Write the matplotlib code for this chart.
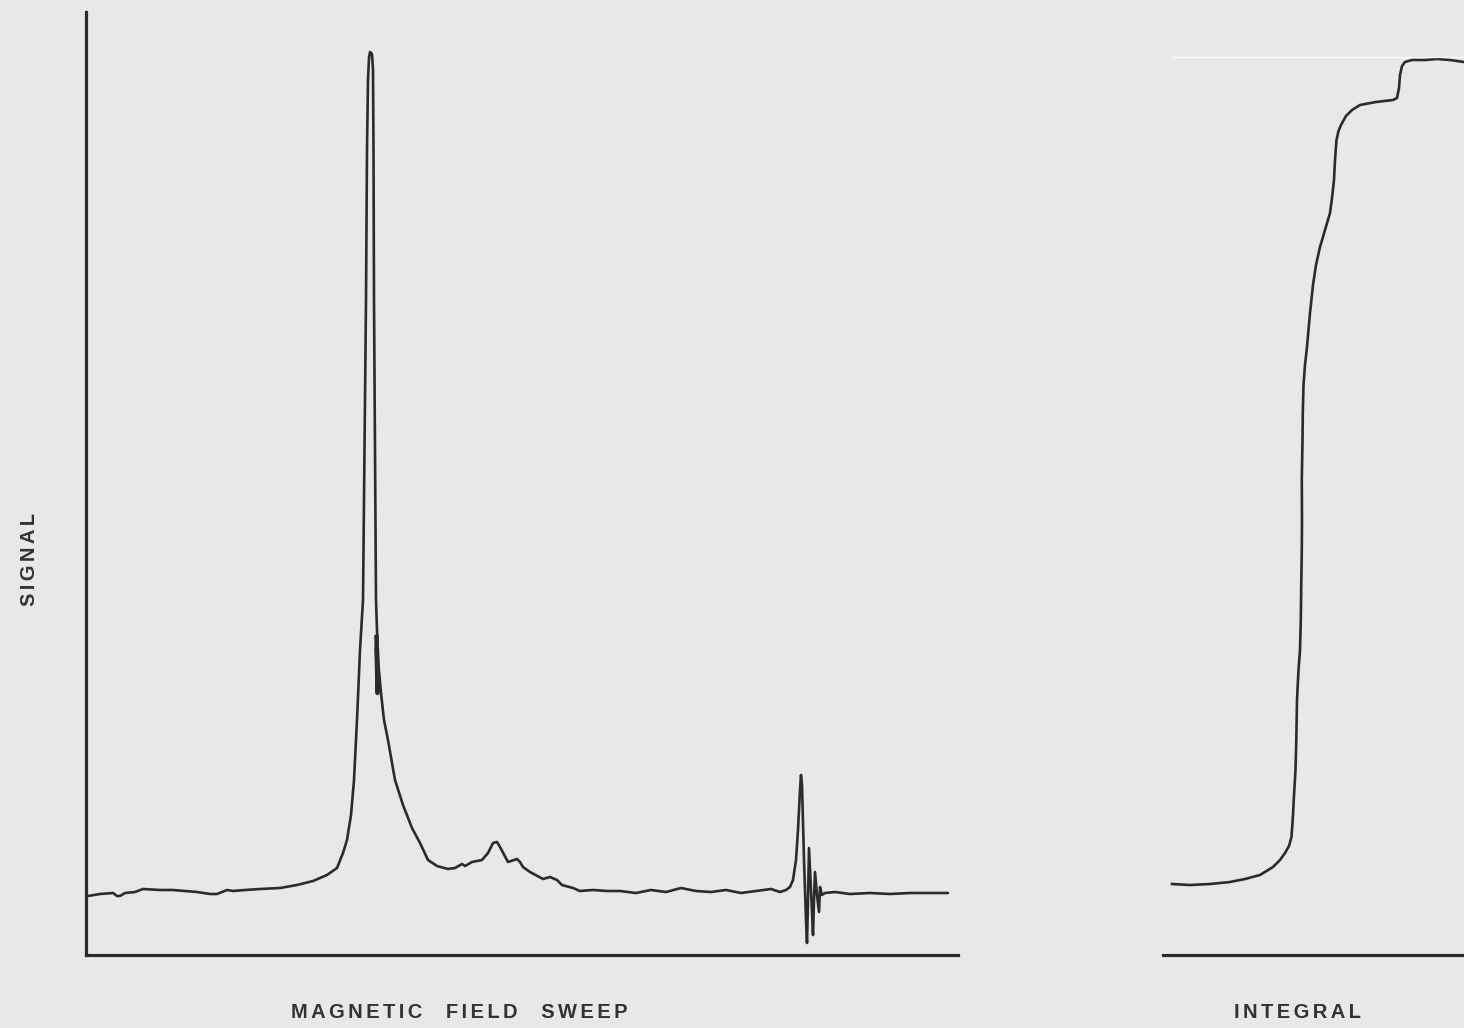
import matplotlib.pyplot as plt

# Recorder trace: sweep position vs. signal height (chart units)
sweep_x = [2, 14, 27, 31, 34, 39, 49, 57, 74, 87,
           99, 111, 124, 131, 136, 141, 147, 159, 174, 194,
           211, 227, 241, 251, 257, 261, 265, 268, 271, 274,
           277, 278, 279, 280, 281, 282, 283, 284, 286, 287,
           287.5, 288, 289, 290, 292, 295, 298, 302, 309, 317,
           326, 334, 342, 351, 362, 369, 376, 379, 386, 396,
           402, 407, 411, 414, 422, 431, 434, 437, 444, 457,
           464, 471, 476, 487, 494, 507, 521, 534, 550, 565,
           580, 595, 610, 625, 640, 655, 670, 685, 694, 700,
           704, 707, 710, 712, 714, 715, 716, 718, 720, 721,
           722, 723, 725, 727, 728, 729, 731, 733, 734, 736,
           739, 749, 764, 784, 804, 824, 844, 862]
signal = [59, 61, 62, 59, 59, 62, 63, 66, 65, 65,
          64, 63, 61, 61, 63, 65, 64, 65, 66, 67,
          70, 74, 80, 87, 102, 115, 140, 175, 235, 305,
          355, 455, 555, 655, 805, 875, 897, 903, 901, 885,
          805, 655, 505, 355, 295, 262, 235, 215, 175, 150,
          127, 112, 95, 89, 86, 87, 91, 89, 93, 95,
          102, 112, 113, 108, 93, 96, 93, 88, 83, 76,
          78, 75, 70, 67, 64, 65, 64, 64, 62, 65,
          63, 67, 64, 63, 65, 62, 64, 66, 63, 65,
          68, 75, 95, 125, 165, 180, 170, 95, 35, 12,
          55, 107, 65, 20, 55, 83, 60, 43, 68, 60,
          62, 63, 61, 62, 61, 62, 62, 62]

# Short pen scribble on the falling edge of the main line
scribble_x = [290.5, 291.5, 291]
scribble_y = [318, 262, 305]

# Integrator trace (chart units)
integral_x = [9, 27, 47, 67, 82, 97, 110, 117, 122, 126,
              128.5, 130, 131, 132.5, 133.3, 134, 135.5, 137, 137.8, 138.2,
              138.8, 139, 138.8, 139.5, 139.8, 140.5, 142, 144, 147, 150,
              153, 157, 162, 167, 169, 171, 172, 173.5, 175.5, 178,
              183, 189, 197, 213, 230, 234, 236, 237, 239, 242,
              249, 262, 274, 287, 301]
integral = [71, 70, 71, 73, 76, 80, 88, 95, 102, 109,
            118, 140, 160, 185, 215, 255, 285, 305, 335, 368,
            405, 435, 475, 515, 542, 570, 590, 608, 642, 670,
            690, 708, 725, 742, 757, 775, 795, 815, 824, 830,
            839, 845, 850, 853, 855, 857, 867, 880, 889, 893,
            895, 895, 896, 895, 893]

paper = '#e8e8e8'
ink = '#2b2b2b'

fig = plt.figure(figsize=(14.64, 10.28), dpi=100, facecolor=paper)

ax1 = fig.add_axes([86 / 1464, 73 / 1028, 872 / 1464, 943 / 1028])
ax2 = fig.add_axes([1163 / 1464, 73 / 1028, 301 / 1464, 943 / 1028])

for ax in (ax1, ax2):
    ax.set_facecolor('none')
    ax.set_ylim(0, 943)
    ax.set_xticks([])
    ax.set_yticks([])
    for side in ('top', 'right'):
        ax.spines[side].set_visible(False)
    ax.spines['bottom'].set_linewidth(2.3)
    ax.spines['bottom'].set_color(ink)
    ax.spines['left'].set_linewidth(2.3)
    ax.spines['left'].set_color(ink)

ax2.spines['left'].set_visible(False)

ax1.set_xlim(0, 872)
ax2.set_xlim(0, 301)

ax1.plot(sweep_x, signal, color=ink, lw=1.9, solid_joinstyle='round',
         solid_capstyle='round', clip_on=False)
ax1.plot(scribble_x, scribble_y, color=ink, lw=3.2, clip_on=False)

ax2.plot(integral_x, integral, color=ink, lw=1.9, solid_joinstyle='round',
         clip_on=False)
# faint crease across the top of the integral panel
ax2.plot([9, 301], [898, 898], color='white', lw=1.0, alpha=0.8, clip_on=False)


def spaced(text):
    # open up the lettering a little, wider gap between words
    return '\u2006   \u2006'.join('\u2006'.join(w) for w in text.split())


label_font = dict(family=['Liberation Sans', 'DejaVu Sans'], fontweight='bold',
                  fontsize=14.5, color='#333333')
fig.text(459 / 1464, 1 - 1013 / 1028, spaced('MAGNETIC FIELD SWEEP'),
         ha='center', va='center', **label_font)
fig.text(1297 / 1464, 1 - 1013 / 1028, spaced('INTEGRAL'),
         ha='center', va='center', **label_font)
fig.text(30 / 1464, 1 - 560 / 1028, spaced('SIGNAL'), rotation=90,
         ha='center', va='center', **label_font)

fig.savefig('out.png', dpi=100, facecolor=paper)
